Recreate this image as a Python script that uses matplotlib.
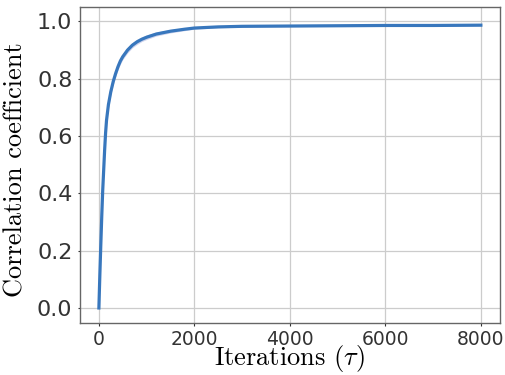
import numpy as np
import matplotlib
matplotlib.use('Agg')
import matplotlib.pyplot as plt

# values
iterations = [0, 20, 40, 60, 80, 100, 120, 140, 160, 200, 250, 300, 350, 400,
              450, 500, 600, 700, 800, 900, 1000, 1200, 1500, 1800, 2000, 2500,
              3000, 4000, 5000, 6000, 7000, 8000]
corr_mean = [0.0, 0.115, 0.22, 0.32, 0.41, 0.48, 0.55, 0.61, 0.655, 0.71,
             0.755, 0.79, 0.818, 0.842, 0.862, 0.877, 0.9, 0.917, 0.929, 0.938,
             0.945, 0.956, 0.966, 0.973, 0.977, 0.981, 0.983, 0.984, 0.985,
             0.986, 0.986, 0.987]
corr_std = [0.0, 0.004, 0.006, 0.007, 0.008, 0.009, 0.010, 0.010, 0.011,
            0.011, 0.011, 0.011, 0.011, 0.011, 0.011, 0.010, 0.010, 0.009,
            0.009, 0.008, 0.008, 0.007, 0.006, 0.005, 0.004, 0.003, 0.003,
            0.002, 0.002, 0.002, 0.002, 0.002]

x_ticks = [0, 2000, 4000, 6000, 8000]
y_ticks = [0.0, 0.2, 0.4, 0.6, 0.8, 1.0]

plt.rcParams['mathtext.fontset'] = 'cm'

fig = plt.figure(figsize=(5.05, 3.75), dpi=100)
ax = fig.add_axes([0.158, 0.139, 0.832, 0.842])

mean = np.array(corr_mean)
std = np.array(corr_std)
ax.fill_between(iterations, mean - std, mean + std, color='#9fa8da', alpha=0.5, lw=0)
ax.plot(iterations, mean, color='#3877bd', lw=2.3)

ax.set_xlim(-400, 8400)
ax.set_ylim(-0.052, 1.05)
ax.set_xticks(x_ticks)
ax.set_yticks(y_ticks)
ax.grid(True, color='#cccccc', lw=0.9)
ax.set_axisbelow(True)
for s in ax.spines.values():
    s.set_color('#666666')
    s.set_linewidth(1.0)
ax.tick_params(axis='both', colors='#333333', length=1.8, width=0.8)
ax.tick_params(axis='x', labelsize=13.5, pad=3)
ax.tick_params(axis='y', labelsize=16, pad=3.5)
for t in ax.get_xticklabels() + ax.get_yticklabels():
    t.set_color('#333333')

ax.set_xlabel(r'Iterations ($\tau$)', family='cmr10', fontsize=19)
ax.set_ylabel('Correlation coefficient', family='cmr10', fontsize=19)
ax.xaxis.set_label_coords(0.5, -0.133)
ax.xaxis.label.set_verticalalignment('baseline')
ax.yaxis.set_label_coords(-0.1357, 0.484)
ax.yaxis.label.set_verticalalignment('baseline')

fig.savefig('out.png', dpi=100)
